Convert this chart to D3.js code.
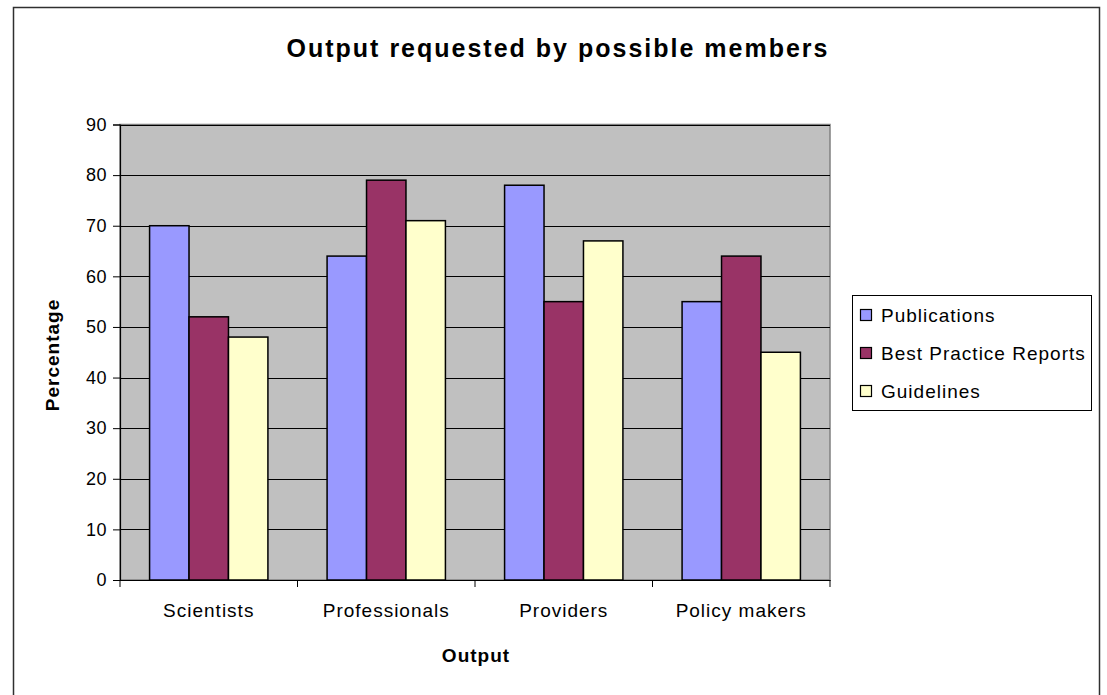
<!DOCTYPE html>
<html>
<head>
<meta charset="utf-8">
<script src="https://cdn.jsdelivr.net/npm/d3@7"></script>
<style>
  html, body { margin: 0; padding: 0; background: #fff; }
  svg { display: block; font-family: "Liberation Sans", Arial, sans-serif; }
</style>
</head>
<body>
<svg id="chart" width="1107" height="695"></svg>
<script>
const categories = ["Scientists", "Professionals", "Providers", "Policy makers"];
const seriesNames = ["Publications", "Best Practice Reports", "Guidelines"];
const publications = [70, 64, 78, 55];
const bestPractice = [52, 79, 55, 64];
const guidelines = [48, 71, 67, 45];
const yTicks = [0, 10, 20, 30, 40, 50, 60, 70, 80, 90];
const seriesColors = ["#9999FF", "#993366", "#FFFFCC"];

const seriesValues = [publications, bestPractice, guidelines];
const data = categories.map((c, i) => ({
  cat: c,
  vals: seriesNames.map((s, j) => ({ s, v: seriesValues[j][i], color: seriesColors[j] }))
}));

const FONT = "Liberation Sans, Arial, sans-serif";
const svg = d3.select("#chart");

// outer border
svg.append("rect").attr("x", 13.5).attr("y", 7.5).attr("width", 1086).attr("height", 700)
  .attr("fill", "#fff").attr("stroke", "#303030").attr("stroke-width", 1.5);

const plot = { left: 120, right: 830, top: 124.5, bottom: 580 };

const x0 = d3.scaleBand().domain(categories).range([plot.left, plot.right]).paddingInner(0).paddingOuter(0);
const barW = x0.bandwidth() / 4.5;
const x1 = d3.scaleBand().domain(seriesNames).range([0, barW * 3]);
const y = d3.scaleLinear().domain([0, 90]).range([plot.bottom, plot.top]);

// plot background
svg.append("rect").attr("x", plot.left).attr("y", plot.top)
  .attr("width", plot.right - plot.left).attr("height", plot.bottom - plot.top)
  .attr("fill", "#C0C0C0").attr("stroke", "#808080").attr("stroke-width", 1.5);

// gridlines
svg.append("g").selectAll("line").data(yTicks.filter(t => t > 0)).join("line")
  .attr("x1", plot.left).attr("x2", plot.right)
  .attr("y1", d => Math.round(y(d)) + 0.5).attr("y2", d => Math.round(y(d)) + 0.5)
  .attr("stroke", "#000").attr("stroke-width", 1);

// bars
const groups = svg.append("g").selectAll("g").data(data).join("g")
  .attr("transform", d => `translate(${x0(d.cat) + barW * 0.75},0)`);
groups.selectAll("rect").data(d => d.vals).join("rect")
  .attr("x", d => x1(d.s))
  .attr("y", d => y(d.v))
  .attr("width", x1.bandwidth())
  .attr("height", d => y(0) - y(d.v))
  .attr("fill", d => d.color)
  .attr("stroke", "#000").attr("stroke-width", 1.5);

// y axis
const yAxis = d3.axisLeft(y).tickValues(yTicks).tickSize(7).tickPadding(6).tickFormat(d3.format("d"));
const gy = svg.append("g").attr("transform", `translate(${plot.left},0)`).call(yAxis);
gy.select(".domain").attr("stroke", "#000").attr("stroke-width", 1.2);
gy.selectAll(".tick line").attr("stroke", "#000");
gy.selectAll(".tick text").attr("font-size", 18).attr("fill", "#000")
  .attr("letter-spacing", 0.5).attr("font-family", FONT);

// x axis
const xAxis = d3.axisBottom(x0).tickSize(0).tickPadding(24);
const gx = svg.append("g").attr("transform", `translate(0,${plot.bottom})`).call(xAxis);
gx.select(".domain").attr("stroke", "#000").attr("stroke-width", 1.2);
gx.selectAll(".tick text").attr("font-size", 19).attr("fill", "#000")
  .attr("letter-spacing", 1).attr("font-family", FONT);
// category boundary ticks
svg.append("g").selectAll("line").data(categories.map(c => x0(c)).concat([plot.right])).join("line")
  .attr("x1", d => d).attr("x2", d => d)
  .attr("y1", plot.bottom).attr("y2", plot.bottom + 7)
  .attr("stroke", "#000").attr("stroke-width", 1);

// title
svg.append("text").attr("x", 558).attr("y", 57).attr("text-anchor", "middle")
  .attr("font-size", 25).attr("font-weight", "bold").attr("letter-spacing", 2)
  .text("Output requested by possible members");

// axis titles
svg.append("text").attr("x", 476).attr("y", 662).attr("text-anchor", "middle")
  .attr("font-size", 19).attr("font-weight", "bold").attr("letter-spacing", 1).text("Output");
svg.append("text").attr("transform", "translate(59,355) rotate(-90)").attr("text-anchor", "middle")
  .attr("font-size", 19).attr("font-weight", "bold").attr("letter-spacing", 1).text("Percentage");

// legend
const leg = svg.append("g");
leg.append("rect").attr("x", 852.5).attr("y", 295.5).attr("width", 239).attr("height", 115)
  .attr("fill", "#fff").attr("stroke", "#000").attr("stroke-width", 1);
const items = leg.selectAll("g.item").data(seriesNames).join("g").attr("class", "item")
  .attr("transform", (d, i) => `translate(860,${315 + i * 38})`);
items.append("rect").attr("x", 0.5).attr("y", -5.5).attr("width", 11).attr("height", 11)
  .attr("fill", (d, i) => seriesColors[i]).attr("stroke", "#000").attr("stroke-width", 1.2);
items.append("text").attr("x", 21).attr("y", 7).attr("font-size", 19).attr("letter-spacing", 1).text(d => d);
</script>
</body>
</html>
